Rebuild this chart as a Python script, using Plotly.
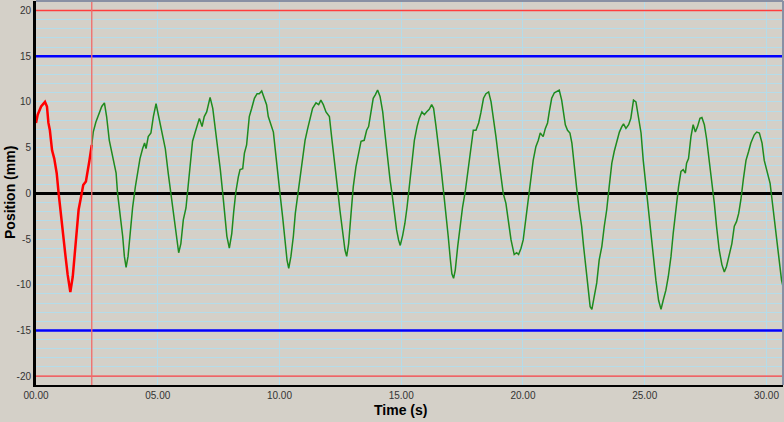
import plotly.graph_objects as go

# ---------------- data ----------------
time_red = [0.0, 0.07, 0.21, 0.37, 0.45, 0.51, 0.57, 0.66, 0.75, 0.85, 0.93, 1.03, 1.12, 1.2, 1.3,
            1.41, 1.51, 1.62, 1.67, 1.75, 1.85, 1.94, 2.05, 2.12, 2.19, 2.29]
pos_red = [7.7, 8.6, 9.5, 10.0, 9.5, 7.7, 6.9, 4.7, 3.8, 2.2, 0.0, -2.2, -4.4, -6.6, -8.9,
           -10.8, -9.1, -5.8, -4.2, -1.8, -0.4, 0.9, 1.3, 2.7, 3.5, 5.3]

time_green = [2.29, 2.35, 2.46, 2.6, 2.7, 2.81, 2.9, 3.01, 3.18, 3.29, 3.35, 3.45, 3.56, 3.63, 3.7,
              3.78, 3.87, 3.97, 4.08, 4.18, 4.27, 4.38, 4.46, 4.52, 4.61, 4.72, 4.82, 4.93, 5.02,
              5.17, 5.31, 5.43, 5.54, 5.64, 5.75, 5.86, 5.95, 6.05, 6.16,
              6.27, 6.37, 6.43, 6.54, 6.64, 6.71, 6.82, 6.91, 7.01, 7.15, 7.26, 7.36, 7.46, 7.57,
              7.67, 7.76, 7.84, 7.94, 8.04, 8.12, 8.21, 8.31, 8.38, 8.49, 8.56, 8.65, 8.76, 8.86,
              8.97, 9.08, 9.17, 9.27, 9.38, 9.47, 9.54, 9.65, 9.75, 9.83, 9.92, 10.02, 10.13,
              10.23, 10.31, 10.38, 10.47, 10.57, 10.65, 10.75, 10.86, 10.95, 11.05, 11.16, 11.25,
              11.36, 11.5, 11.61, 11.7, 11.8, 11.91, 12.05, 12.14, 12.25, 12.32,
              12.39, 12.48, 12.59, 12.69, 12.76, 12.84, 12.94, 13.03, 13.14, 13.24, 13.35, 13.48,
              13.58, 13.66, 13.76, 13.85, 13.94, 14.03, 14.13, 14.24, 14.33, 14.44, 14.54, 14.62,
              14.72, 14.81, 14.89, 14.96, 15.06, 15.15, 15.24, 15.33, 15.43, 15.54, 15.65, 15.74,
              15.85, 15.95, 16.04, 16.15, 16.25, 16.33, 16.43, 16.54, 16.63, 16.73, 16.84, 16.93,
              17.02, 17.08, 17.15, 17.22, 17.32, 17.41, 17.52, 17.63, 17.73, 17.86, 17.96, 18.07,
              18.18, 18.27, 18.38, 18.48,
              18.59, 18.69, 18.78, 18.89, 18.99, 19.1, 19.19, 19.3, 19.4, 19.51, 19.64, 19.74,
              19.82, 19.92, 20.01, 20.12, 20.22, 20.33, 20.42, 20.53, 20.63, 20.71, 20.83, 20.92,
              21.01, 21.08, 21.18, 21.29, 21.4, 21.49, 21.59, 21.66, 21.74, 21.83, 21.93, 22.01,
              22.11, 22.2, 22.31, 22.41, 22.49, 22.59, 22.68, 22.76, 22.83, 22.93, 23.03, 23.13,
              23.24, 23.34, 23.44, 23.54, 23.65, 23.75, 23.85, 23.96, 24.06, 24.13, 24.23, 24.34,
              24.43, 24.54, 24.64,
              24.75, 24.85, 24.94, 25.05, 25.16, 25.26, 25.35, 25.46, 25.57, 25.67, 25.76, 25.87,
              25.97, 26.08, 26.17, 26.28, 26.39, 26.49, 26.58, 26.67, 26.72, 26.8, 26.9, 26.99,
              27.08, 27.17, 27.27, 27.35, 27.45, 27.54, 27.65, 27.76, 27.86, 27.95, 28.06, 28.17,
              28.27, 28.36, 28.47, 28.58, 28.68, 28.77, 28.86, 28.95, 29.05, 29.16, 29.27, 29.36,
              29.5, 29.6, 29.71, 29.82, 29.91, 30.05, 30.15, 30.23, 30.32, 30.42, 30.53, 30.62, 30.68]
pos_green = [5.3, 6.7, 7.8, 8.9, 9.5, 9.9, 8.4, 5.8, 3.5, 2.2, 0.0, -2.2, -4.7, -6.9, -8.1,
             -6.9, -4.2, -1.5, 0.7, 2.6, 3.8, 4.9, 5.5, 4.9, 6.2, 6.6, 8.4, 9.8, 8.6,
             6.9, 4.9, 2.2, 0.0, -2.2, -4.4, -6.5, -5.5, -2.9, -1.6,
             1.5, 3.6, 5.7, 6.7, 7.7, 8.2, 7.3, 8.4, 8.9, 10.5, 9.3, 7.3, 5.1, 2.6,
             0.0, -2.6, -4.7, -6.0, -4.4, -2.0, 0.2, 1.8, 2.6, 2.7, 4.4, 5.3, 8.4, 9.3,
             10.4, 10.9, 10.9, 11.2, 10.4, 9.7, 8.4, 7.5, 6.7, 4.7, 2.2, 0.0, -2.6,
             -5.1, -7.3, -8.2, -6.9, -4.7, -2.2, -0.2, 1.8, 3.8, 5.8, 7.1, 8.2,
             9.3, 9.9, 9.7, 10.2, 9.7, 8.9, 8.4, 6.2, 3.3, 1.5,
             0.4, -1.8, -4.4, -6.2, -6.9, -5.5, -2.2, 0.7, 2.9, 4.4, 5.7, 5.8,
             6.9, 7.3, 9.1, 10.4, 10.8, 11.3, 10.6, 8.9, 6.6, 3.6, 1.5, 0.0,
             -2.2, -4.0, -5.1, -5.7, -4.6, -3.3, -1.5, 0.7, 3.3, 5.8, 7.3, 8.2,
             8.9, 8.6, 8.9, 9.2, 9.7, 9.3, 7.3, 5.1, 2.9, 0.4, -2.2, -4.7,
             -7.3, -8.8, -9.3, -8.4, -5.8, -3.6, -1.5, 0.2, 2.2, 5.1, 6.9, 6.9,
             7.7, 8.8, 10.4, 10.9,
             11.1, 10.0, 8.4, 6.2, 4.0, 1.8, 0.0, -1.1, -2.9, -5.1, -6.7, -6.5,
             -6.7, -6.0, -5.1, -2.9, -0.4, 1.8, 3.6, 5.1, 5.8, 6.6, 6.2, 7.1,
             7.7, 8.9, 10.4, 11.0, 11.2, 11.3, 10.2, 8.8, 7.5, 6.9, 6.6, 5.5,
             3.3, 0.7, -1.8, -3.6, -5.8, -8.0, -10.6, -12.4, -12.7, -11.3, -9.8, -7.3,
             -5.8, -3.6, -1.8, 0.7, 3.3, 4.6, 5.7, 6.7, 7.3, 7.6, 7.1, 7.5,
             8.2, 10.2, 10.0,
             8.0, 6.6, 3.6, 0.7, -2.2, -4.2, -6.9, -9.5, -11.7, -12.7, -11.7, -10.6,
             -9.1, -6.9, -4.4, -1.5, 0.7, 2.4, 2.6, 2.2, 3.3, 3.8, 6.2, 7.5,
             6.7, 7.3, 8.2, 8.3, 7.5, 6.0, 3.6, 1.5, -1.1, -3.6, -6.2, -7.8,
             -8.6, -8.0, -6.9, -5.5, -3.6, -3.1, -2.2, -0.7, 1.5, 3.6, 4.6, 5.5,
             6.4, 6.7, 6.6, 5.5, 3.6, 2.2, 1.1, -0.7, -2.9, -5.1, -7.3, -9.5, -10.2]

x_tick_vals = [0, 5, 10, 15, 20, 25, 30]
x_tick_text = ["00.00", "05.00", "10.00", "15.00", "20.00", "25.00", "30.00"]
y_tick_vals = [20, 15, 10, 5, 0, -5, -10, -15, -20]
y_tick_text = ["20", "15", "10", "5", "0", "-5", "-10", "-15", "-20"]
limit_inner = [15, -15]
limit_outer = [20, -20]
cursor_time = 2.29

BG = "#d4d0c8"
GRID = "#b4dcea"

fig = go.Figure()
fig.add_trace(go.Scatter(x=time_green, y=pos_green, mode="lines",
                         line=dict(color="#1f8a1f", width=1.5), showlegend=False))
fig.add_trace(go.Scatter(x=time_red, y=pos_red, mode="lines",
                         line=dict(color="#ff0000", width=2.5), showlegend=False))

shapes = []
for v in limit_outer:
    shapes.append(dict(type="line", xref="paper", yref="y", x0=0, x1=1, y0=v, y1=v,
                       line=dict(color="#ff3c3c", width=1.3), layer="above"))
for v in limit_inner:
    shapes.append(dict(type="line", xref="paper", yref="y", x0=0, x1=1, y0=v, y1=v,
                       line=dict(color="#0000ff", width=2.6), layer="above"))
shapes.append(dict(type="line", xref="x", yref="paper", x0=cursor_time, x1=cursor_time, y0=0, y1=1,
                   line=dict(color="#f06a6a", width=1.3), layer="above"))
# frame (top / right)
shapes.append(dict(type="line", xref="paper", yref="paper", x0=0, x1=1, y0=1, y1=1,
                   line=dict(color="#8890a4", width=2), layer="above"))
shapes.append(dict(type="line", xref="paper", yref="paper", x0=1, x1=1, y0=0, y1=1,
                   line=dict(color="#8890a4", width=2), layer="above"))

fig.update_layout(
    width=784, height=422,
    margin=dict(l=36, r=1, t=1, b=37),
    paper_bgcolor=BG, plot_bgcolor=BG,
    shapes=shapes,
    font=dict(family="Liberation Sans", color="#333333"),
    annotations=[
        dict(text="<b>Time (s)</b>", xref="paper", yref="paper", x=(400 - 36) / 747, y=-25 / 384,
             xanchor="center", yanchor="middle", showarrow=False,
             font=dict(family="Liberation Sans", size=14, color="#000000")),
        dict(text="<b>Position (mm)</b>", xref="paper", yref="paper", x=(10 - 36) / 747, y=0.5,
             xanchor="center", yanchor="middle", showarrow=False, textangle=-90,
             font=dict(family="Liberation Sans", size=14, color="#000000")),
    ],
)
fig.update_xaxes(range=[0, 30.68], tickvals=x_tick_vals, ticktext=x_tick_text,
                 showgrid=True, gridcolor=GRID, gridwidth=1, zeroline=False,
                 showline=True, linecolor="#000000", linewidth=2, automargin=False,
                 ticks="", tickfont=dict(size=10, color="#333333"))
fig.update_yaxes(range=[-20.97, 21.04], tickvals=y_tick_vals, ticktext=y_tick_text,
                 showgrid=True, gridcolor=GRID, gridwidth=1, automargin=False,
                 minor=dict(dtick=1, showgrid=True, gridcolor=GRID, gridwidth=1),
                 zeroline=True, zerolinecolor="#000000", zerolinewidth=2.5,
                 showline=True, linecolor="#000000", linewidth=3,
                 ticks="", tickfont=dict(size=10, color="#333333"))

fig.write_html("out.html", config={"displayModeBar": False},
               post_script="document.body.style.margin='0';document.body.style.overflow='hidden';")
